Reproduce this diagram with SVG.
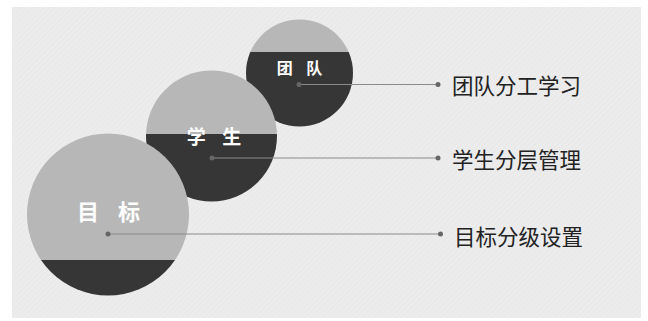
<svg xmlns="http://www.w3.org/2000/svg" width="648" height="321" viewBox="0 0 648 321">
<defs>
<pattern id="tex" width="4" height="4" patternUnits="userSpaceOnUse" patternTransform="rotate(45)">
<rect width="4" height="4" fill="#ececec"/>
<rect width="1" height="4" fill="#e8e8e8"/>
</pattern>
<clipPath id="c1"><circle cx="299.5" cy="73" r="53.5"/></clipPath>
<clipPath id="c2"><circle cx="211.5" cy="136" r="65.5"/></clipPath>
<clipPath id="c3"><circle cx="108" cy="214.5" r="81"/></clipPath>
</defs>
<style>
.light{fill:#b7b7b7}
.dark{fill:#363636}
.cl{font-family:"Noto Sans CJK SC","Noto Sans",sans-serif;font-weight:bold;fill:#ffffff;text-anchor:middle;dominant-baseline:central}
.lb{font-family:"Noto Sans CJK SC","Noto Sans",sans-serif;font-size:21.5px;fill:#222;dominant-baseline:central}
.ln{stroke:#8a8a8a;stroke-width:1;fill:none}
.dot{fill:#666}
</style>
<rect width="648" height="321" fill="#ffffff"/>
<rect x="12" y="7" width="629" height="311" fill="url(#tex)"/>
<g id="node-team">
<g clip-path="url(#c1)">
<rect x="240" y="15" width="120" height="37" class="light"/>
<rect x="240" y="52" width="120" height="80" class="dark"/>
</g>
<text x="302" y="67" class="cl" font-size="16" letter-spacing="5">团 队</text>
</g>
<g id="node-student">
<g clip-path="url(#c2)">
<rect x="140" y="65" width="140" height="69" class="light"/>
<rect x="140" y="134" width="140" height="72" class="dark"/>
</g>
<text x="217" y="135" class="cl" font-size="19" letter-spacing="6">学 生</text>
</g>
<g id="node-goal">
<g clip-path="url(#c3)">
<rect x="20" y="130" width="180" height="130" class="light"/>
<rect x="20" y="260" width="180" height="40" class="dark"/>
</g>
<text x="112" y="210" class="cl" font-size="22" letter-spacing="7">目 标</text>
</g>
<g id="connectors">
<line x1="299" y1="84.5" x2="438" y2="84.5" class="ln"/>
<circle cx="299" cy="84.5" r="2.5" class="dot"/>
<circle cx="438" cy="84.5" r="2.5" class="dot"/>
<line x1="212" y1="158" x2="438" y2="158" class="ln"/>
<circle cx="212" cy="158" r="2.5" class="dot"/>
<circle cx="438" cy="158" r="2.5" class="dot"/>
<line x1="108" y1="234" x2="440.5" y2="234" class="ln"/>
<circle cx="108" cy="234" r="2.5" class="dot"/>
<circle cx="440.5" cy="234" r="2.5" class="dot"/>
</g>
<g id="labels">
<text x="452" y="84" class="lb">团队分工学习</text>
<text x="452" y="158" class="lb">学生分层管理</text>
<text x="454" y="235" class="lb">目标分级设置</text>
</g>
</svg>
